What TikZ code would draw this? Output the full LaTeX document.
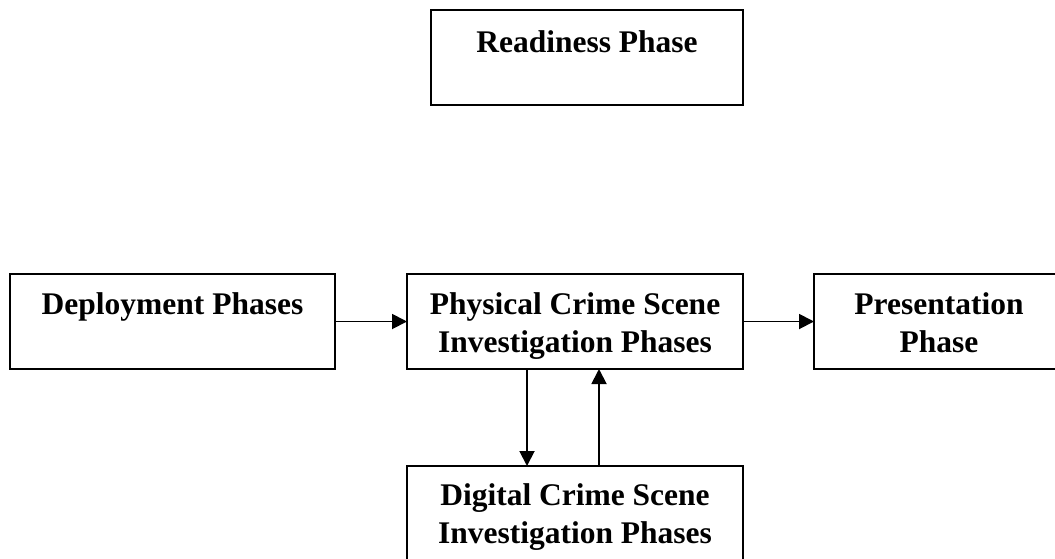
\documentclass[tikz,border=0pt]{standalone}
\usepackage{fontspec}
\setmainfont{Liberation Serif}
\usetikzlibrary{arrows.meta}

\tikzset{
  phasebox/.style={draw=black, line width=1.9pt, fill=none, inner sep=0pt, outer sep=0pt},
  phaselabel/.style={font=\fontsize{31.5}{38}\selectfont\bfseries, inner sep=0pt, anchor=base, align=center},
  flow/.style={draw=black, line width=1.9pt, -{Triangle[length=15pt,width=15pt]}}
}

\begin{document}
\begin{tikzpicture}[x=1pt, y=-1pt]
  \useasboundingbox (0,0) rectangle (1055,558);

  % boxes
  \node[phasebox, minimum width=312pt, minimum height=95pt] (ready) at (587,57.5) {};
  \node[phasebox, minimum width=325pt, minimum height=95pt] (deploy) at (172.5,321.5) {};
  \node[phasebox, minimum width=336pt, minimum height=95pt] (phys) at (575,321.5) {};
  \node[phasebox, minimum width=250pt, minimum height=95pt] (pres) at (939,321.5) {};
  \node[phasebox, minimum width=336pt, minimum height=114pt] (digi) at (575,523) {};

  % labels (base anchor of a two-line label sits on its last line)
  \node[phaselabel] (readyT) at (587,52) {Readiness Phase};
  \node[phaselabel] (deployT) at (172.5,314) {Deployment Phases};
  \node[phaselabel] (physT) at (575,352) {Physical Crime Scene\\Investigation Phases};
  \node[phaselabel] (presT) at (939,352) {Presentation\\Phase};
  \node[phaselabel] (digiT) at (575,543) {Digital Crime Scene\\Investigation Phases};

  % connectors
  \draw[flow] (deploy) -- (phys);
  \draw[flow] (phys) -- (pres);
  \draw[flow] ([xshift=-48pt]phys.south) -- ([xshift=-48pt]digi.north);
  \draw[flow] ([xshift=24pt]digi.north) -- ([xshift=24pt]phys.south);
\end{tikzpicture}
\end{document}
